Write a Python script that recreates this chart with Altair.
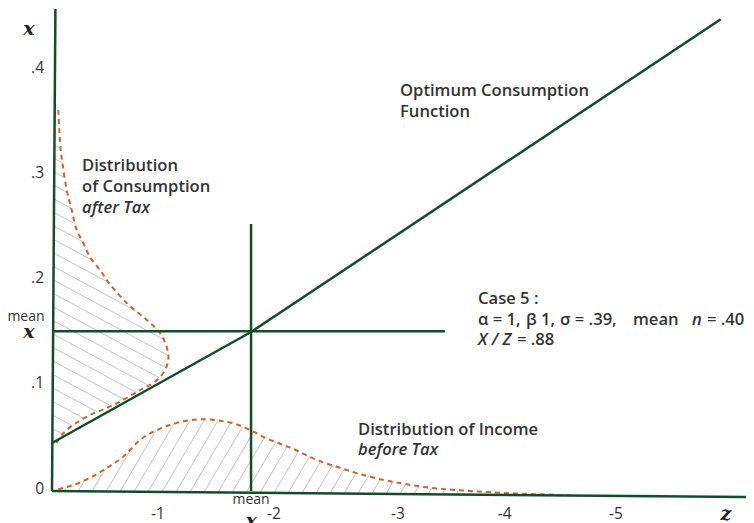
import altair as alt
import numpy as np
import pandas as pd

# ---------------- data (diagram units: u = z-distance, v = x value) ----------------
cons_line_u = [0.0, 1.746, 5.866]
cons_line_v = [0.0457, 0.1513, 0.4488]

mean_z = 1.746
mean_x = 0.152

# distribution of consumption after tax (drawn along the vertical axis)
cdist_u = [0.055, 0.064, 0.076, 0.094, 0.129, 0.173, 0.217, 0.275, 0.333, 0.421, 0.50,
           0.655, 0.831, 0.947, 1.006, 1.020, 0.976, 0.889, 0.772, 0.625, 0.480, 0.333,
           0.187, 0.085, 0.041]
cdist_v = [0.3625, 0.3435, 0.3245, 0.3102, 0.2864, 0.2674, 0.2483, 0.2360, 0.2226, 0.2103,
           0.1979, 0.1789, 0.1627, 0.1503, 0.1370, 0.1246, 0.1123, 0.1028, 0.0961, 0.0866,
           0.0790, 0.0723, 0.0628, 0.0533, 0.0457]

# distribution of income before tax (drawn along the horizontal axis)
idist_u = [0.055, 0.187, 0.333, 0.480, 0.625, 0.772, 0.889, 1.035, 1.182, 1.327, 1.474,
           1.590, 1.737, 1.883, 2.029, 2.104, 2.289, 2.538, 2.786, 3.034, 3.282, 3.530,
           3.778, 4.026, 4.274, 4.553]
idist_v = [0.0016, 0.0057, 0.0124, 0.0219, 0.0326, 0.0485, 0.0564, 0.0628, 0.0669, 0.0682,
           0.0669, 0.0644, 0.0580, 0.0501, 0.0438, 0.0406, 0.0311, 0.0216, 0.0136, 0.0079,
           0.0035, 0.0010, -0.0007, -0.0022, -0.0031, -0.0043]

ytick_vals = [0.0, 0.1, 0.2, 0.3, 0.4]
ytick_labels = ["0", ".1", ".2", ".3", ".4"]
xtick_pos = [0.93, 1.947, 3.035, 3.97, 4.947]
xtick_labels = ["-1", "-2", "-3", "-4", "-5"]

# ---------------- layout constants ----------------
W, H = 738, 515
OX, OY = 52, 491          # screen px of the origin
PXU, PXV = 114.0, 1051.0  # px per unit
xs = alt.Scale(domain=[(8 - OX) / PXU, (8 + W - OX) / PXU], zero=False, nice=False)
ys = alt.Scale(domain=[(OY - 8 - H) / PXV, (OY - 8) / PXV], zero=False, nice=False)

GREEN = "#124d2b"
ORANGE = "#d4602f"
HATCH = "#c4c4c4"
TXT = "#333333"
SANS = "Open Sans"
SERIF = "DejaVu Serif"
FS = 16.6


def to_px(u, v):
    return np.column_stack([OX + PXU * np.asarray(u), OY - PXV * np.asarray(v)])


def to_dat(p):
    return (p[0] - OX) / PXU, (OY - p[1]) / PXV


def hx(px):
    return (px - OX) / PXU


def first_hit(p0, d, poly):
    best = None
    for i in range(len(poly) - 1):
        a, b = poly[i], poly[i + 1]
        e = b - a
        den = -d[0] * e[1] + d[1] * e[0]
        if abs(den) < 1e-12:
            continue
        r = a - p0
        t = (-r[0] * e[1] + e[0] * r[1]) / den
        s = (d[0] * r[1] - d[1] * r[0]) / den
        if t > 1e-6 and -1e-9 <= s <= 1 + 1e-9:
            best = t if best is None else min(best, t)
    return best


# hatch segments for consumption distribution
cpoly = to_px(cdist_u, cdist_v)
ax_top = to_px([0.03], [0.4586])[0]
ax_bot = to_px([0.0], [0.0])[0]
hatch_rows = []
d = np.array([1.0, 0.54])
for y0 in np.arange(145, 441, 13.5):
    xa = ax_bot[0] + (ax_top[0] - ax_bot[0]) * (ax_bot[1] - y0) / (ax_bot[1] - ax_top[1])
    p0 = np.array([xa, y0])
    t = first_hit(p0, d, cpoly)
    if t:
        p1 = p0 + t * d
        u1, v1 = to_dat(p0)
        u2, v2 = to_dat(p1)
        hatch_rows.append(dict(u1=u1, v1=v1, u2=u2, v2=v2))

# hatch segments for income distribution
ipoly = to_px(idist_u, idist_v)
xa_end = to_px([6.16], [-0.0057])[0]
d = np.array([1.0, -1.7])
for x0 in np.arange(64, 562, 14):
    y0 = ax_bot[1] + (xa_end[1] - ax_bot[1]) * (x0 - ax_bot[0]) / (xa_end[0] - ax_bot[0])
    p0 = np.array([x0, y0])
    t = first_hit(p0, d, ipoly)
    if t:
        p1 = p0 + t * d
        u1, v1 = to_dat(p0)
        u2, v2 = to_dat(p1)
        hatch_rows.append(dict(u1=u1, v1=v1, u2=u2, v2=v2))

hatch_df = pd.DataFrame(hatch_rows)


def enc(ch):
    return ch.encode(x=alt.X("u:Q", scale=xs, axis=None), y=alt.Y("v:Q", scale=ys, axis=None))


def rules(df, **kw):
    return alt.Chart(df).mark_rule(**kw).encode(
        x=alt.X("u1:Q", scale=xs, axis=None), x2="u2:Q",
        y=alt.Y("v1:Q", scale=ys, axis=None), y2="v2:Q")


hatch = rules(hatch_df, color=HATCH, strokeWidth=1)

cons_curve = alt.Chart(pd.DataFrame({"u": cdist_u, "v": cdist_v, "i": range(len(cdist_u))})).mark_line(
    color=ORANGE, strokeWidth=2, strokeDash=[5, 4], interpolate="catmull-rom"
).encode(x=alt.X("u:Q", scale=xs, axis=None), y=alt.Y("v:Q", scale=ys, axis=None), order="i:Q")

inc_curve = alt.Chart(pd.DataFrame({"u": idist_u, "v": idist_v, "i": range(len(idist_u))})).mark_line(
    color=ORANGE, strokeWidth=2, strokeDash=[5, 4], interpolate="monotone"
).encode(x=alt.X("u:Q", scale=xs, axis=None), y=alt.Y("v:Q", scale=ys, axis=None), order="i:Q")

green_df = pd.DataFrame([
    dict(u1=0.03, v1=0.4586, u2=0.0, v2=0.0),          # vertical axis
    dict(u1=0.0, v1=0.0, u2=6.16, v2=-0.0057),         # horizontal axis
    dict(u1=0.0, v1=mean_x, u2=3.447, v2=mean_x),      # mean x line
    dict(u1=mean_z, v1=0.0, u2=mean_z, v2=0.254),      # mean z line
])
green = rules(green_df, color=GREEN, strokeWidth=2.5)

cons_line = alt.Chart(pd.DataFrame({"u": cons_line_u, "v": cons_line_v, "i": range(3)})).mark_line(
    color=GREEN, strokeWidth=2.5
).encode(x=alt.X("u:Q", scale=xs, axis=None), y=alt.Y("v:Q", scale=ys, axis=None), order="i:Q")


def txt(rows, **kw):
    base = dict(font=SANS, fontSize=FS, color=TXT, baseline="middle")
    base.update(kw)
    return enc(alt.Chart(pd.DataFrame(rows, columns=["u", "v", "t"])).mark_text(**base)).encode(text="t:N")


yt = txt([(hx(44), v, l) for v, l in zip(ytick_vals, ytick_labels)],
         align="right", dy=-2.5, fontSize=15.5)
xt = txt([(p, -0.0219, l) for p, l in zip(xtick_pos, xtick_labels)], align="center", fontSize=15.5)

serif_x = txt([(hx(29), 0.4386, "x"), (hx(29), 0.1503, "x"), (mean_z, -0.0295, "x"), (hx(726), -0.0228, "z")],
              font=SERIF, fontSize=19, fontStyle="italic", fontWeight="bold", color="#222222", dy=-1)
means = txt([(hx(26), 0.1657, "mean"), (mean_z, -0.0086, "mean")], fontSize=14, fontWeight=500)

bold_left = txt([
    (hx(400), 0.3806, "Optimum Consumption"), (hx(400), 0.3606, "Function"),
    (hx(82), 0.3092, "Distribution"), (hx(82), 0.2893, "of Consumption"),
    (hx(478), 0.1827, "Case 5 :"),
    (hx(478), 0.1627, "\u03b1 = 1,"), (hx(526), 0.1627, "\u03b2 1,"),
    (hx(560), 0.1627, "\u03c3 = .39,"), (hx(633), 0.1627, "mean"),
    (hx(707), 0.1627, "= .40"),
    (hx(517), 0.1437, "= .88"),
    (hx(358), 0.0580, "Distribution of Income"),
], align="left", fontWeight=600)

ital_left = txt([
    (hx(82), 0.2693, "after Tax"), (hx(358), 0.0390, "before Tax"),
    (hx(478), 0.1437, "X / Z"), (hx(692), 0.1627, "n"),
], align="left", fontWeight=600, fontStyle="italic")

chart = alt.layer(
    hatch, inc_curve, cons_curve, green, cons_line,
    yt, xt, serif_x, means, bold_left, ital_left
).properties(
    width=W, height=H, padding=0, autosize=alt.AutoSizeParams(type="none"), background="white"
).configure_view(stroke=None)

chart.save("out.html", embed_options={"renderer": "svg", "actions": False})
